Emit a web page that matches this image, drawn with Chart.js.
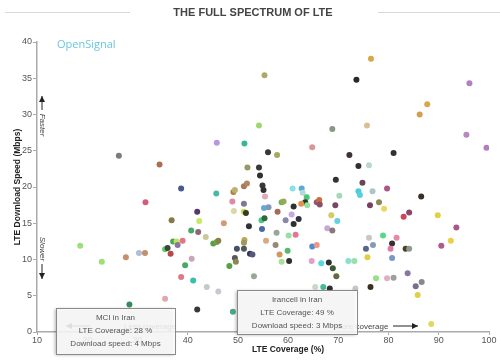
<!DOCTYPE html>
<html>
<head>
<meta charset="utf-8">
<style>
  html, body { margin: 0; padding: 0; background: #fff; }
  #wrap { position: relative; width: 500px; height: 362px; }
</style>
<script src="https://cdn.jsdelivr.net/npm/chart.js@4.4.1/dist/chart.umd.min.js"></script>
</head>
<body>
<div id="wrap"><canvas id="lteChart" width="500" height="362"></canvas></div>
<script>
// LTE coverage (%) per operator
const coverage = [
  26.3, 31.6, 18.6, 22.9, 27.7, 30.3, 31.5, 28.4, 55.3, 54.2, 45.8, 51.3, 56.0, 57.8, 76.5, 73.6, 96.1, 87.7, 86.2, 68.8,
  75.7, 95.5, 99.5, 64.8, 72.2, 81.0, 34.4, 51.9, 54.2, 54.4, 38.7, 45.7, 49.1, 49.4, 51.2, 51.8, 54.9, 55.1, 55.4, 48.9,
  51.2, 58.7, 59.1, 60.9, 61.1, 41.9, 49.2, 51.2, 51.6, 55.2, 56.1, 57.9, 60.7, 36.8, 42.3, 47.2, 54.7, 55.3, 59.5, 61.1,
  62.1, 40.7, 42.1, 52.2, 54.8, 57.7, 61.5, 60.1, 37.1, 37.8, 39.0, 38.0, 43.6, 45.1, 45.8, 46.1, 51.3, 51.2, 55.6, 57.5,
  35.5, 36.0, 36.6, 49.8, 51.2, 52.4, 52.9, 58.3, 59.9, 60.2, 58.7, 49.4, 49.6, 48.3, 40.8, 39.5, 38.7, 41.1, 53.2, 43.8,
  74.0, 76.1, 69.5, 74.8, 79.7, 70.2, 74.0, 74.3, 76.8, 86.5, 62.7, 62.9, 63.7, 63.4, 62.6, 63.8, 65.7, 66.2, 66.3, 69.4,
  76.3, 78.1, 79.1, 68.6, 69.8, 83.0, 84.1, 89.8, 93.5, 67.8, 68.8, 78.9, 76.1, 81.6, 80.7, 80.4, 83.4, 84.1, 92.4, 90.5,
  64.8, 65.7, 75.5, 76.9, 75.8, 80.7, 64.7, 66.6, 68.1, 68.9, 72.0, 73.2, 69.6, 77.5, 79.7, 81.0, 83.8, 86.6, 85.4, 76.4,
  67.0, 68.3, 65.4, 85.8, 88.5, 46.1, 35.5, 41.9, 49.0, 73.4
];
// LTE download speed (Mbps)
const speed = [
  24.3, 17.9, 11.9, 9.7, 10.3, 10.9, 10.9, 3.8, 35.4, 28.5, 26.1, 26.0, 24.8, 24.4, 37.7, 34.8, 34.3, 31.4, 30.0, 28.0,
  28.5, 27.2, 25.4, 25.5, 24.4, 24.7, 23.1, 22.7, 22.7, 21.6, 19.8, 19.1, 19.3, 19.6, 20.1, 20.5, 20.2, 19.6, 18.7, 18.0,
  17.7, 17.9, 18.0, 19.8, 17.3, 16.6, 16.7, 16.6, 16.4, 17.1, 17.2, 16.6, 16.2, 15.4, 15.3, 15.0, 15.4, 15.7, 15.4, 14.9,
  15.6, 14.0, 13.8, 14.6, 14.2, 13.7, 13.4, 13.3, 12.5, 12.5, 12.6, 12.0, 13.1, 12.2, 12.4, 12.6, 12.7, 12.3, 12.6, 12.0,
  11.4, 11.6, 10.8, 11.5, 11.5, 10.8, 10.7, 10.7, 11.2, 9.8, 9.7, 10.2, 9.7, 9.1, 10.1, 9.2, 7.6, 7.1, 7.7, 6.2,
  22.9, 23.0, 21.0, 20.6, 19.8, 18.8, 19.4, 18.9, 19.4, 18.7, 19.8, 19.2, 18.6, 17.9, 17.7, 17.5, 17.9, 18.2, 17.6, 17.5,
  17.5, 17.9, 17.0, 16.1, 15.3, 15.9, 16.5, 16.1, 14.4, 14.3, 14.0, 13.3, 13.0, 13.0, 12.2, 11.5, 11.5, 11.5, 12.6, 11.9,
  11.8, 12.0, 11.5, 12.0, 10.3, 10.2, 9.8, 9.5, 9.6, 8.8, 9.8, 9.8, 7.7, 7.4, 7.4, 7.5, 8.1, 6.9, 6.3, 6.2,
  6.2, 6.0, 6.2, 5.1, 1.1, 5.6, 4.6, 3.1, 2.8, 6.0
];
const dotColors = [
  '#7a7a80', '#d0607a', '#9be07a', '#9be07a', '#c8906a', '#b0bcd8', '#c0906a', '#3a8a60', '#b0a868', '#a0d870',
  '#b898e0', '#38b898', '#383838', '#a8a860', '#d8a848', '#282828', '#b080c0', '#d8a848', '#d0a050', '#889888',
  '#d8c090', '#b888c0', '#b080b8', '#d89898', '#403038', '#303030', '#a87050', '#989868', '#383838', '#303030',
  '#485890', '#48b8a8', '#a88840', '#c0b070', '#a87858', '#b08860', '#383838', '#303030', '#e0a8b8', '#e088a8',
  '#807898', '#68b858', '#98a858', '#88e0e8', '#303030', '#583868', '#d8d8a8', '#c8d848', '#383828', '#68a8d8',
  '#8098b8', '#a86858', '#c8a8e0', '#887848', '#c8e868', '#d89878', '#48c888', '#306838', '#8888a8', '#303030',
  '#303040', '#48a868', '#886878', '#303038', '#4868a8', '#98a898', '#e07898', '#98e0a0', '#48a858', '#c8e060',
  '#e07888', '#8878a0', '#c8c898', '#58a048', '#68a848', '#888048', '#b8a858', '#a09858', '#d8a888', '#988878',
  '#68c868', '#384838', '#b84848', '#485068', '#505858', '#383858', '#585878', '#d09860', '#58b870', '#303030',
  '#a8e098', '#585860', '#888850', '#58a048', '#c8a8b8', '#48a868', '#e07888', '#38c0a8', '#98a898', '#c8c8c8',
  '#303030', '#b8d8c8', '#383030', '#684858', '#a85888', '#a8d8b8', '#48d0d8', '#58d0e0', '#a8c8c8', '#383028',
  '#58a8d8', '#b8d8d8', '#48c870', '#283828', '#e09050', '#98e0a0', '#985868', '#c87040', '#885070', '#784868',
  '#784060', '#888858', '#e8d868', '#d8c868', '#68d0e0', '#c84858', '#884868', '#e0d048', '#a85888', '#c8a8d8',
  '#887878', '#58d888', '#c8c8c0', '#e888a8', '#383030', '#e078a8', '#484020', '#909890', '#e8d048', '#b05890',
  '#5888c8', '#e89888', '#586888', '#8898b8', '#e0d040', '#7898c8', '#e0a0c8', '#58d8e0', '#303030', '#385838',
  '#88e0d0', '#98e0a8', '#686840', '#98e088', '#e0b0c0', '#98a0a0', '#8878a0', '#888890', '#787090', '#383020',
  '#48b898', '#303030', '#c8d8c8', '#e0d048', '#e0d860', '#c8c8d0', '#e0a8a8', '#383838', '#48a888', '#c0c8c8'
];
const xTicks = [10, 20, 30, 40, 50, 60, 70, 80, 90, 100];
const yTicks = [0, 5, 10, 15, 20, 25, 30, 35, 40];

// hover boxes left open in the original screenshot
const callouts = [
  { name: 'MCI in Iran', cov: 28, spd: 4, box: [56, 308, 119, 46] },
  { name: 'Irancell in Iran', cov: 49, spd: 3, box: [237, 290, 120, 44] }
];

const FONT = '"Liberation Sans", Arial, sans-serif';

function arrow(ctx, x1, y1, x2, y2) {
  ctx.beginPath();
  ctx.moveTo(x1, y1);
  ctx.lineTo(x2, y2);
  ctx.stroke();
  const a = Math.atan2(y2 - y1, x2 - x1);
  ctx.beginPath();
  ctx.moveTo(x2, y2);
  ctx.lineTo(x2 - 6 * Math.cos(a) + 3 * Math.sin(a), y2 - 6 * Math.sin(a) - 3 * Math.cos(a));
  ctx.lineTo(x2 - 6 * Math.cos(a) - 3 * Math.sin(a), y2 - 6 * Math.sin(a) + 3 * Math.cos(a));
  ctx.closePath();
  ctx.fill();
}

const decorations = {
  id: 'decorations',
  afterDraw(chart) {
    const ctx = chart.ctx;
    const area = chart.chartArea;
    ctx.save();

    // title with rules either side
    ctx.strokeStyle = '#d8d8d8';
    ctx.lineWidth = 1;
    ctx.beginPath();
    ctx.moveTo(5, 12.5); ctx.lineTo(130, 12.5);
    ctx.moveTo(378, 12.5); ctx.lineTo(500, 12.5);
    ctx.stroke();
    ctx.fillStyle = '#444';
    ctx.font = 'bold 11px ' + FONT;
    ctx.textAlign = 'center';
    ctx.textBaseline = 'middle';
    ctx.fillText('THE FULL SPECTRUM OF LTE', 253, 13);

    // brand
    ctx.fillStyle = '#6cc6df';
    ctx.font = '11px "Open Sans", sans-serif';
    ctx.textAlign = 'left';
    ctx.fillText('OpenSignal', 57, 45);

    // axis titles
    ctx.fillStyle = '#222';
    ctx.font = 'bold 8.5px ' + FONT;
    ctx.textAlign = 'center';
    ctx.fillText('LTE Coverage (%)', 288, 350);
    ctx.save();
    ctx.translate(18, 187);
    ctx.rotate(-Math.PI / 2);
    ctx.fillText('LTE Download Speed (Mbps)', 0, 0);
    ctx.restore();

    // faster / slower
    ctx.fillStyle = '#222';
    ctx.strokeStyle = '#222';
    ctx.lineWidth = 1;
    arrow(ctx, 42, 110, 42, 96);
    arrow(ctx, 42, 264, 42, 279);
    ctx.font = 'italic 8px ' + FONT;
    ctx.fillStyle = '#444';
    ctx.save();
    ctx.translate(42, 125);
    ctx.rotate(Math.PI / 2);
    ctx.fillText('Faster', 0, 0);
    ctx.restore();
    ctx.save();
    ctx.translate(42, 249);
    ctx.rotate(Math.PI / 2);
    ctx.fillText('Slower', 0, 0);
    ctx.restore();

    // less / more coverage
    ctx.font = '8px ' + FONT;
    ctx.fillStyle = '#444';
    ctx.strokeStyle = '#222';
    ctx.fillStyle = '#222';
    arrow(ctx, 90, 326, 66, 326);
    ctx.fillStyle = '#444';
    ctx.textAlign = 'left';
    ctx.fillText('Less coverage', 124, 327);
    ctx.fillText('More coverage', 335, 327);
    ctx.fillStyle = '#222';
    arrow(ctx, 393, 326, 418, 326);

    // open tooltips
    callouts.forEach(c => {
      const [bx, by, bw, bh] = c.box;
      ctx.shadowColor = 'rgba(0,0,0,0.35)';
      ctx.shadowBlur = 3;
      ctx.shadowOffsetX = -1;
      ctx.shadowOffsetY = 1;
      ctx.fillStyle = 'rgba(255,255,255,0.86)';
      ctx.fillRect(bx, by, bw, bh);
      ctx.shadowColor = 'transparent';
      ctx.strokeStyle = '#8a8a8a';
      ctx.lineWidth = 1;
      ctx.strokeRect(bx + 0.5, by + 0.5, bw, bh);
      ctx.fillStyle = '#555';
      ctx.font = '8px ' + FONT;
      ctx.textAlign = 'center';
      const cx = bx + bw / 2;
      ctx.fillText(c.name, cx, by + 10);
      ctx.fillText('LTE Coverage: ' + c.cov + ' %', cx, by + 23);
      ctx.fillText('Download speed: ' + c.spd + ' Mbps', cx, by + 36);
    });

    ctx.restore();
  }
};

new Chart(document.getElementById('lteChart'), {
  type: 'scatter',
  data: {
    datasets: [{
      data: coverage.map((c, i) => ({ x: c, y: speed[i] })),
      pointBackgroundColor: dotColors,
      pointBorderWidth: 0,
      pointRadius: 3,
      pointHoverRadius: 3
    }]
  },
  options: {
    responsive: false,
    devicePixelRatio: 1,
    animation: false,
    layout: { padding: { top: 42, right: 11, left: 0, bottom: 0 } },
    plugins: {
      legend: { display: false },
      tooltip: { enabled: false }
    },
    scales: {
      x: {
        type: 'linear',
        min: 10,
        max: 100,
        afterBuildTicks: s => { s.ticks = xTicks.map(v => ({ value: v })); },
        afterFit: s => { s.height = 30; },
        ticks: { color: '#555', font: { size: 9, family: FONT }, padding: 0, maxRotation: 0 },
        grid: { drawOnChartArea: false, drawTicks: true, tickLength: 3, color: '#aaa' },
        border: { color: '#aaa', width: 1.5 }
      },
      y: {
        min: 0,
        max: 40,
        afterBuildTicks: s => { s.ticks = yTicks.map(v => ({ value: v })); },
        afterFit: s => { s.width = 37; },
        ticks: { color: '#555', font: { size: 9, family: FONT }, padding: 1 },
        grid: { drawOnChartArea: false, drawTicks: true, tickLength: 4, color: '#aaa' },
        border: { color: '#aaa', width: 1.5 }
      }
    }
  },
  plugins: [decorations]
});
</script>
</body>
</html>
